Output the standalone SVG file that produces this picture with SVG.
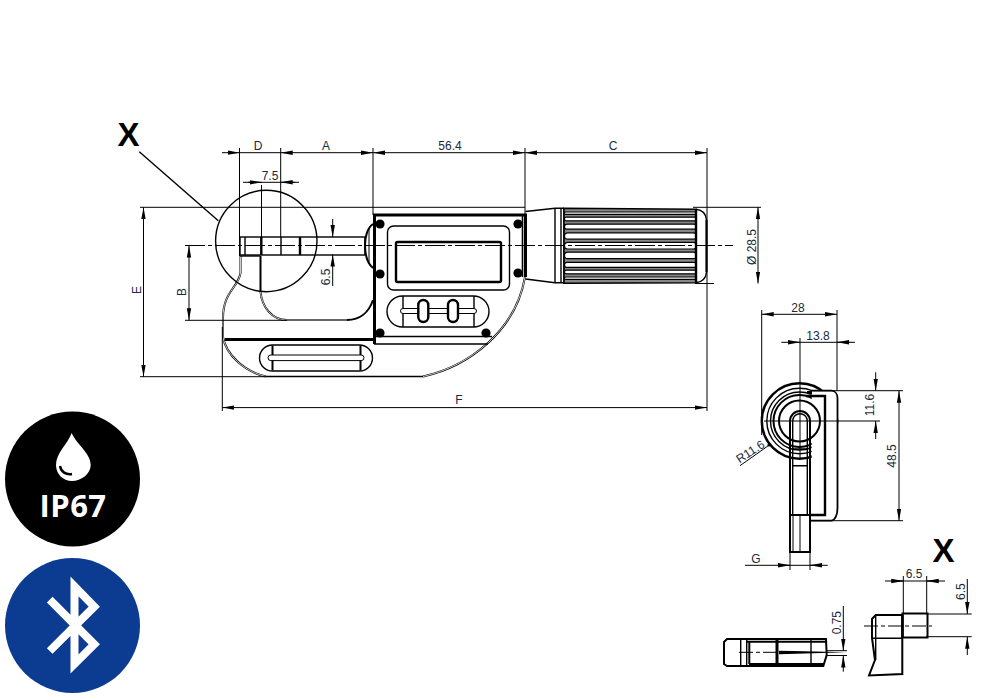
<svg xmlns="http://www.w3.org/2000/svg" width="1000" height="700" viewBox="0 0 1000 700">
<defs>
<marker id="a" markerUnits="userSpaceOnUse" markerWidth="13" markerHeight="7" refX="12" refY="3.5" orient="auto-start-reverse"><path d="M0,1.3 L12,3.5 L0,5.7 Z" fill="#000"/></marker>
</defs>
<style>
text{font-family:"Liberation Sans",Arial,sans-serif;font-size:12px;fill:#1b2a3a;text-anchor:middle}
.x{font-size:33px;font-weight:bold;fill:#000}
.d{fill:none;stroke:#000;stroke-width:1}
.ar{fill:none;stroke:#000;stroke-width:1;marker-end:url(#a)}
.ar2{fill:none;stroke:#000;stroke-width:1;marker-start:url(#a);marker-end:url(#a)}
.c{fill:none;stroke:#000;stroke-width:1;stroke-dasharray:20 3 4 3}
.t{fill:none;stroke:#000;stroke-width:1.4}
.m{fill:none;stroke:#000;stroke-width:2}
.k{fill:none;stroke:#000;stroke-width:3}
.w{fill:#fff;stroke:#000;stroke-width:1.4}
.dw{fill:none;stroke:#fff;stroke-width:.8}
.s{fill:#000}
</style>
<rect width="1000" height="700" fill="#fff"/>

<g id="front-view">
<path class="m" d="M240.5,256V273C238,288 223,292 223,318V337C226,355 245,372 266,376.5"/>
<path class="dw" d="M240.5,256V273C238,288 223,292 223,318V337C226,355 245,372 266,376.5"/>
<path class="m" d="M260.5,256V292C262,307 272,320 287,320H347C360,320 369,312 373,300"/>
<path class="dw" d="M260.5,292C262,307 272,320 287,320H347"/>
<path class="k" d="M225,339.5H373"/>
<path class="t" d="M266,376.5H423"/>
<path class="m" d="M423,376.5C470,366 516,330 525,277"/>
<path class="dw" d="M423,376.5C470,366 516,330 525,277"/>
<path class="t" d="M240,256H260"/>
<rect class="t" x="240" y="237" width="125" height="18"/>
<path class="k" d="M261.3,237V255M300,237V255" style="stroke-width:2.4"/>
<path class="t" d="M245,237V255M281,237V255"/>
<path class="m" d="M373,224C367,228 365,238 365,245C365,255 367,263 373,268"/>
<path class="d" d="M369,228V264"/>
<path class="k" d="M374.5,344V215H525.5V277"/>
<path class="k" d="M522.5,215V277" style="stroke-width:1.6"/>
<path class="t" d="M374,336.5H492M374,344H488"/>
<rect class="t" x="387.5" y="226" width="122" height="64" rx="6"/>
<rect class="k" x="396" y="242" width="105" height="40" rx="1.5" style="stroke-width:2.4"/>
<rect class="t" x="387" y="296" width="102" height="31" rx="15.5"/>
<path class="t" d="M403,296V327M474,296V327"/>
<rect x="400.5" y="308.5" width="76" height="5" rx="2.5" fill="#fff" stroke="#000"/>
<rect x="418.3" y="300" width="10" height="22" rx="5" fill="#fff" stroke="#000" stroke-width="2.4"/>
<rect x="448" y="300" width="10" height="22" rx="5" fill="#fff" stroke="#000" stroke-width="2.4"/>
<circle class="s" cx="380" cy="224" r="4.6"/><circle class="s" cx="380" cy="274" r="4.6"/><circle class="s" cx="380" cy="333" r="4.6"/>
<circle class="s" cx="518" cy="224" r="4.6"/><circle class="s" cx="518" cy="273" r="4.6"/><circle class="s" cx="486" cy="333" r="4.6"/>
<rect class="t" x="259.5" y="345" width="113" height="26" rx="13"/>
<path class="m" d="M272.5,345.5V370.5M360.5,345.5V370.5"/>
<rect x="268" y="355" width="96" height="5.6" rx="2.8" fill="#fff" stroke="#000"/>
<circle class="t" cx="266.3" cy="241" r="50.7"/>
</g>

<g id="thimble">
<path class="t" d="M525.5,211.5L555,208.3H564M525.5,279L555,282.7H564"/>
<path class="t" d="M555,208.3V282.7M561,208.5V283M564,208.5V283"/>
<path d="M564,208.3L696,209.3V282.7L564,283.3Z" fill="#888" stroke="#000" stroke-width="1.6"/>
<g fill="#fff" stroke="#000" stroke-width="1.2">
<rect x="564.5" y="212" width="132" height="2.4" rx="1.2"/>
<rect x="564.5" y="217.2" width="132" height="3.6" rx="1.8"/>
<rect x="564.5" y="224.2" width="132" height="5" rx="2.5"/>
<rect x="564.5" y="232.8" width="132" height="6.4" rx="3.2"/>
<rect x="564.5" y="242.4" width="132" height="6.6" rx="3.3"/>
<rect x="564.5" y="252.2" width="132" height="6.4" rx="3.2"/>
<rect x="564.5" y="262.4" width="132" height="5" rx="2.5"/>
<rect x="564.5" y="270.2" width="132" height="3.6" rx="1.8"/>
<rect x="564.5" y="277" width="132" height="2.4" rx="1.2"/>
</g>
<path class="k" d="M696,209.3V282.7" style="stroke-width:2.4"/>
<path class="t" d="M696,209.3C702,210 706,214 706.5,220V272C706,278 702,282 696,282.7"/>
<path class="k" d="M706.5,220V272" style="stroke-width:2"/>
</g>

<g id="side-view">
<circle cx="799.5" cy="421" r="37.7" fill="#fff" stroke="#000" stroke-width="2.4"/>
<circle class="t" cx="799.5" cy="421" r="32.7"/>
<circle class="t" cx="799.5" cy="421" r="29"/>
<circle class="m" cx="799.5" cy="421" r="26"/>
<path d="M811.7,390.7H831.7C835,391 837.5,394 837.5,398V508C837.5,515 835,520 831.7,520.7H810V458H811.7Z" fill="#fff"/>
<path d="M811.7,390.7H831.7C835,391 837.5,394 837.5,398V508C837.5,515 835,520 831.7,520.7H810" fill="none" stroke="#000" stroke-width="1.8"/>
<path class="k" d="M806,396H825V515H810" style="stroke-width:2.4"/>
<path class="k" d="M807,392.5H812" style="stroke-width:3"/>
<circle class="m" cx="799.5" cy="421" r="20.5"/>
<path class="m" d="M790,515V421A10,10 0 0 1 810,421V515" fill="#fff"/>
<path class="t" d="M792.7,515V421A7,7 0 0 1 807.3,421V515"/>
<path class="t" d="M792,449H808M792,465.7H808"/>
<rect class="m" x="790" y="515" width="20" height="37" fill="#fff"/>
<path class="d" d="M793,515V552M800,515V552"/>
<path class="k" d="M789,515H811" style="stroke-width:2"/>
</g>

<g id="detail-left">
<path class="m" d="M724,642L727,639H826L826.7,655L823.3,666H727L724,664Z"/>
<path class="t" d="M740.7,639V666M746.7,639V666M811,639V666"/>
<path class="m" d="M749.3,641.5V664"/>
<path class="k" d="M777,640V666"/>
<path class="m" d="M747,641.7H826M749,664H824"/>
<path d="M779,650.8L805,651.2L846,652.2L805,653.6L779,654.2Z" fill="#000"/>
</g>
<g id="detail-right">
<path class="m" d="M875.7,615H902.3V674L869,675.5L875,660L872,638V619Z"/>
<path class="t" d="M875.7,615V660M873,638.3H902"/>
<rect class="m" x="902.5" y="613.5" width="25" height="24" fill="#fff"/>
<path class="k" d="M902.5,615V637" style="stroke-width:2.4"/>
</g>

<g id="connectors">
<path class="d" d="M139.3,151.7L218.3,220.7" style="stroke-width:1.4"/>
<path class="c" d="M185,245.5H733"/>
<path class="d" d="M140,207.3H525M693,207.3H761M140,376.7H266M185,320.3H287M695,283.5H714"/>
<path class="d" d="M239.5,148V256M261.5,185V237M280.7,148V237M373,148V215M525,148V215M707,148V411M222.3,327V411"/>
<path class="ar" d="M222,152.7H239.5"/><path class="ar2" d="M280.7,152.7H373"/><path class="ar2" d="M373,152.7H525"/><path class="ar2" d="M525,152.7H707"/>
<path class="d" d="M239.5,152.7H280.7"/>
<path class="d" d="M243,182.3H299"/>
<path class="ar" d="M248,182.3H261.5"/><path class="ar" d="M295,182.3H280.7"/>
<path class="ar2" d="M143.5,207.3V376.7"/>
<path class="ar2" d="M189,245.5V320.3"/>
<path class="ar" d="M332.7,219V237"/><path class="ar" d="M332.7,286V254.5"/>
<path class="ar2" d="M222.3,407.6H707"/>
<path class="ar2" d="M758,207.3V283.5"/>

<path class="d" d="M761.7,310V435M837,310V390.7M800,338V458M764,421H880M811,390.7H903M810,520.7H903"/>
<path class="ar2" d="M761.7,314.3H837"/>
<path class="d" d="M781.3,342.3H855"/>
<path class="ar" d="M788,342.3H800"/><path class="ar" d="M850,342.3H837"/>
<path class="ar" d="M875.7,372.3V390.7"/><path class="ar" d="M875.7,439V421"/>
<path class="ar2" d="M899,390.7V520.7"/>
<path class="d" d="M740,465.7L769.3,445"/>
<circle class="s" cx="769" cy="445" r="1.6"/>
<path class="d" d="M790,552V570M810,552V570M745,565.3H827.7"/>
<path class="ar" d="M778,565.3H790"/><path class="ar" d="M822,565.3H810"/>

<path class="d" d="M903.3,576V613M926.7,576V613M885,581H945M926,614H971.7M926,636.7H971.7"/>
<path class="ar" d="M891,581H903.3"/><path class="ar" d="M939,581H926.7"/>
<path class="ar" d="M967.3,579V614"/><path class="ar" d="M967.3,655V636.7"/>
<path class="c" d="M864,626H932" style="stroke-dasharray:14 3 4 3"/>
<path class="c" d="M739,652.3H778" style="stroke-dasharray:14 3 4 3"/>
<path class="d" d="M827,650.7H847M827,655.5H847"/>
<path class="ar" d="M843.3,606V650.7"/><path class="ar" d="M843.3,671.7V655.5"/>
</g>

<g id="labels">
<text class="x" x="128.5" y="146">X</text>
<text x="258" y="150">D</text>
<text x="326" y="150">A</text>
<text x="450" y="150">56.4</text>
<text x="613" y="150">C</text>
<text x="270" y="180">7.5</text>
<text x="459" y="404">F</text>
<text transform="translate(141,290) rotate(-90)">E</text>
<text transform="translate(186,292) rotate(-90)">B</text>
<text transform="translate(330,277) rotate(-90)">6.5</text>
<text transform="translate(755.5,247) rotate(-90)">Ø 28.5</text>
<text x="798" y="312">28</text>
<text x="818" y="340">13.8</text>
<text transform="translate(874,405) rotate(-90)">11.6</text>
<text transform="translate(896,456) rotate(-90)">48.5</text>
<text transform="translate(752.5,455) rotate(-33)">R11.6</text>
<text x="756" y="563">G</text>
<text class="x" x="943.5" y="561.7">X</text>
<text x="914" y="578">6.5</text>
<text transform="translate(965,591.7) rotate(-90)">6.5</text>
<text transform="translate(841,622.7) rotate(-90)">0.75</text>
</g>

<g id="ip67-badge">
<circle cx="72.5" cy="479" r="67.5" fill="#000"/>
<path d="M71.7,433C67,445 56,453 56,465C56,474 63,481 72,481C81,481 90.7,474 90.7,465C90.7,453 77,445 71.7,433Z" fill="#fff"/>
<path d="M60,466C61,472 66,475 72,474" fill="none" stroke="#000" stroke-width="2.4"/>
<text x="73" y="517" style="font-family:'Open Sans','Noto Sans',sans-serif;font-size:31px;font-weight:bold;fill:#fff;letter-spacing:.5px">IP67</text>
</g>
<g id="bluetooth-badge">
<circle cx="72.5" cy="625.5" r="67.5" fill="#0c3c92"/>
<path d="M49.7,599.7L94.3,644.3L74.5,664V586.4L94.3,606.7L49.7,651" fill="none" stroke="#fff" stroke-width="8" stroke-miterlimit="8"/>
</g>
</svg>
